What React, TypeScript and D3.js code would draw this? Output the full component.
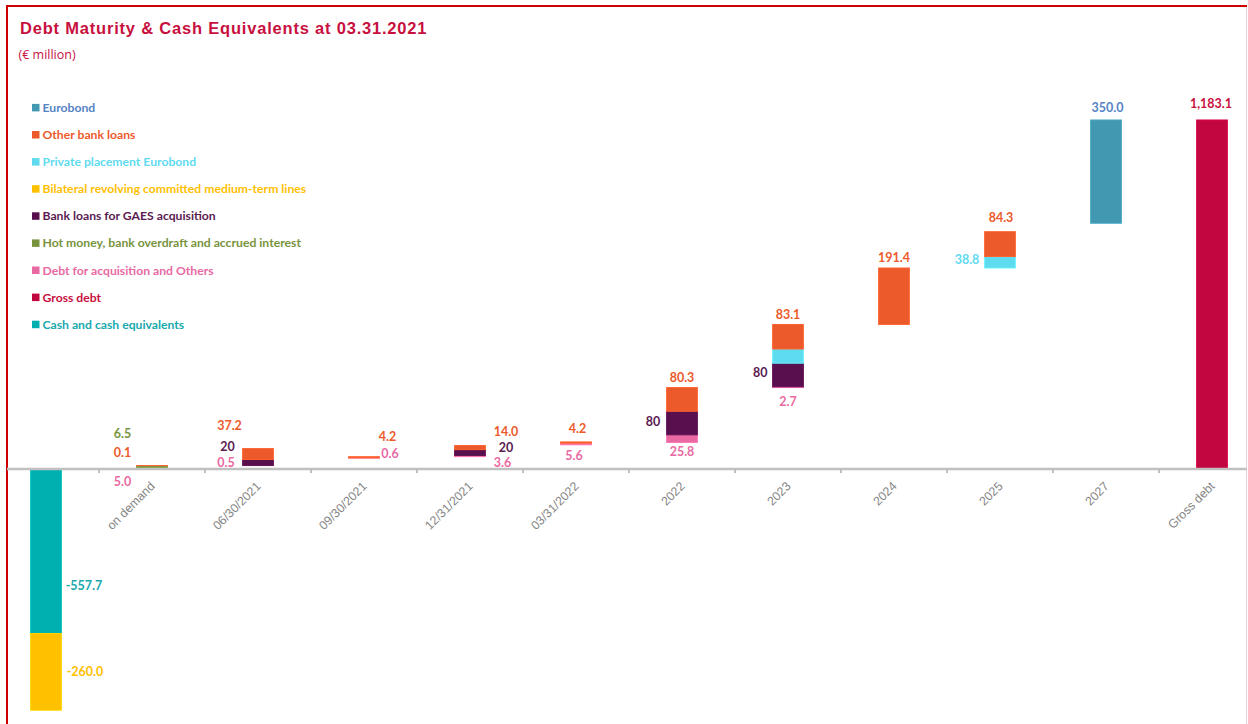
import React from "react";
import * as d3 from "d3";

const categories = [
  "Cash",
  "on demand",
  "06/30/2021",
  "09/30/2021",
  "12/31/2021",
  "03/31/2022",
  "2022",
  "2023",
  "2024",
  "2025",
  "2027",
  "Gross debt",
];
const tickLabels = [
  "",
  "on demand",
  "06/30/2021",
  "09/30/2021",
  "12/31/2021",
  "03/31/2022",
  "2022",
  "2023",
  "2024",
  "2025",
  "2027",
  "Gross debt",
];

// invisible offset series of the waterfall
const base = [0, 0, 11.6, 37, 42, 82, 90, 276, 490, 681.4, 833.1, 0];
const debtAcquisition = [0, 5.0, 0.5, 0.6, 3.6, 5.6, 25.8, 2.7, 0, 0, 0, 0];
const gaesLoans = [0, 0, 20, 0, 20, 0, 80, 80, 0, 0, 0, 0];
const privatePlacement = [0, 0, 0, 0, 0, 0, 0, 48, 0, 38.8, 0, 0];
const hotMoney = [0, 6.5, 0, 0, 0, 0, 0, 0, 0, 0, 0, 0];
const otherBankLoans = [0, 0.1, 37.2, 4.2, 14.0, 4.2, 80.3, 83.1, 191.4, 84.3, 0, 0];
const eurobond = [0, 0, 0, 0, 0, 0, 0, 0, 0, 0, 350.0, 0];
const grossDebt = [0, 0, 0, 0, 0, 0, 0, 0, 0, 0, 0, 1183.1];
const cashEquivalents = [-557.7, 0, 0, 0, 0, 0, 0, 0, 0, 0, 0, 0];
const bilateralLines = [-260.0, 0, 0, 0, 0, 0, 0, 0, 0, 0, 0, 0];

type Series = { key: string; name: string; color: string; label: string; values: number[] };

// stacking order (bottom to top)
const series: Series[] = [
  { key: "debtAcq", name: "Debt for acquisition and Others", color: "#e96aa3", label: "#e96aa3", values: debtAcquisition },
  { key: "gaes", name: "Bank loans for GAES acquisition", color: "#580f4d", label: "#5a1a52", values: gaesLoans },
  { key: "private", name: "Private placement Eurobond", color: "#5fdbef", label: "#5fdbef", values: privatePlacement },
  { key: "hot", name: "Hot money, bank overdraft and accrued interest", color: "#77933c", label: "#77933c", values: hotMoney },
  { key: "other", name: "Other bank loans", color: "#ec5a2c", label: "#ec5a2c", values: otherBankLoans },
  { key: "eurobond", name: "Eurobond", color: "#4198b0", label: "#5584c4", values: eurobond },
  { key: "gross", name: "Gross debt", color: "#c2063f", label: "#c8103f", values: grossDebt },
  { key: "cash", name: "Cash and cash equivalents", color: "#00b0b0", label: "#17a9ad", values: cashEquivalents },
  { key: "bilateral", name: "Bilateral revolving committed medium-term lines", color: "#ffc000", label: "#ffc000", values: bilateralLines },
];

const legendOrder = ["eurobond", "other", "private", "bilateral", "gaes", "hot", "debtAcq", "gross", "cash"];

// label placement: reference point of the segment and offset in px
const labelLayout: { cat: number; key: string; ref: "mid" | "top" | "bottom"; dx: number; dy: number }[] = [
  { cat: 0, key: "cash", ref: "mid", dx: 38, dy: 34.5 },
  { cat: 0, key: "bilateral", ref: "mid", dx: 39, dy: -0.5 },
  { cat: 1, key: "hot", ref: "mid", dx: -29.5, dy: -33 },
  { cat: 1, key: "other", ref: "mid", dx: -29.5, dy: -13 },
  { cat: 1, key: "debtAcq", ref: "mid", dx: -29.5, dy: 13 },
  { cat: 2, key: "other", ref: "mid", dx: -28.5, dy: -28.5 },
  { cat: 2, key: "gaes", ref: "mid", dx: -30.5, dy: -15.5 },
  { cat: 2, key: "debtAcq", ref: "mid", dx: -32, dy: -3.5 },
  { cat: 3, key: "other", ref: "mid", dx: 23.5, dy: -20.6 },
  { cat: 3, key: "debtAcq", ref: "mid", dx: 26, dy: -4 },
  { cat: 4, key: "other", ref: "mid", dx: 36, dy: -16 },
  { cat: 4, key: "gaes", ref: "mid", dx: 36, dy: -5.4 },
  { cat: 4, key: "debtAcq", ref: "mid", dx: 32.5, dy: 6.2 },
  { cat: 5, key: "other", ref: "mid", dx: 1.5, dy: -14.5 },
  { cat: 5, key: "debtAcq", ref: "mid", dx: -2, dy: 12 },
  { cat: 6, key: "other", ref: "top", dx: 0, dy: -10.3 },
  { cat: 6, key: "gaes", ref: "mid", dx: -29, dy: -1.7 },
  { cat: 6, key: "debtAcq", ref: "bottom", dx: 0, dy: 9 },
  { cat: 7, key: "other", ref: "top", dx: 0, dy: -10 },
  { cat: 7, key: "gaes", ref: "mid", dx: -27.7, dy: -2.5 },
  { cat: 7, key: "debtAcq", ref: "bottom", dx: 0, dy: 14.4 },
  { cat: 8, key: "other", ref: "top", dx: 0, dy: -10 },
  { cat: 9, key: "other", ref: "top", dx: 1, dy: -13.7 },
  { cat: 9, key: "private", ref: "mid", dx: -33, dy: -2.6 },
  { cat: 10, key: "eurobond", ref: "top", dx: 1.5, dy: -12 },
  { cat: 11, key: "gross", ref: "top", dx: -1, dy: -16 },
];

const W = 1248;
const H = 724;

const locale = d3.formatLocale({ decimal: ".", thousands: ",", grouping: [3], currency: ["€", ""], minus: "-" });

const App: React.FC = () => {
  const x = d3
    .scaleBand<string>()
    .domain(categories)
    .range([-7, 1265])
    .paddingInner(0.71)
    .paddingOuter(0.355);
  const y = d3.scaleLinear().domain([-800, 1200]).range([705, 115]);

  const rows = categories.map((c, i) => {
    const r: Record<string, number | string> = { cat: c, base: base[i] };
    series.forEach((s) => (r[s.key] = s.values[i]));
    return r;
  });
  const stacked = d3
    .stack<Record<string, number | string>>()
    .keys(["base", ...series.map((s) => s.key)])
    .value((d, k) => d[k] as number)
    .offset(d3.stackOffsetDiverging)(rows);

  const segOf = (key: string, cat: number) => stacked.find((l) => l.key === key)![cat];
  const cx = (i: number) => (x(categories[i]) ?? 0) + x.bandwidth() / 2;
  const step = x.step();
  const zeroY = y(0);

  const fmt = (key: string, v: number) =>
    key === "gaes" ? locale.format("d")(v) : locale.format(",.1f")(v);

  const labelFont = "Lato, 'Open Sans', sans-serif";

  return (
    <svg
      width={W}
      height={H}
      style={{ position: "absolute", left: 0, top: 0, display: "block", background: "#fff" }}
    >
      {/* frame */}
      <line x1={7} y1={6} x2={1247} y2={6} stroke="#cc0000" strokeWidth={2} />
      <line x1={7} y1={5} x2={7} y2={H} stroke="#cc0000" strokeWidth={2} />
      <line x1={1246.5} y1={7} x2={1246.5} y2={H} stroke="#f3cfd6" strokeWidth={1} />

      <text
        x={20}
        y={33.5}
        fontFamily="'Liberation Sans', Arial, sans-serif"
        fontWeight="bold"
        fontSize={16.5}
        letterSpacing={0.8}
        fill="#c8103f"
      >
        Debt Maturity &amp; Cash Equivalents at 03.31.2021
      </text>
      <text x={18.5} y={58.5} fontFamily="'Open Sans', sans-serif" fontSize={12.5} fill="#c8103f">
        (€ million)
      </text>

      {/* legend */}
      {legendOrder.map((k, i) => {
        const s = series.find((d) => d.key === k)!;
        const ly = 107.7 + i * 27.1;
        return (
          <g key={k}>
            <rect x={32} y={ly - 3.8} width={7.5} height={7.5} fill={s.color} />
            <text x={42.5} y={ly} dy="0.35em" fontFamily={labelFont} fontWeight="bold" fontSize={12.2} fill={s.label}>
              {s.name}
            </text>
          </g>
        );
      })}

      {/* bars */}
      {stacked
        .filter((l) => l.key !== "base")
        .map((layer) => {
          const s = series.find((d) => d.key === layer.key)!;
          return (
            <g key={layer.key}>
              {layer.map((seg, i) =>
                seg[1] - seg[0] === 0 ? null : (
                  <rect
                    key={i}
                    x={x(categories[i])}
                    width={x.bandwidth()}
                    y={y(Math.max(seg[0], seg[1]))}
                    height={Math.abs(y(seg[0]) - y(seg[1]))}
                    fill={s.color}
                    stroke={d3.color(s.color)!.brighter(0.3).formatHex()}
                    strokeWidth={1}
                  />
                )
              )}
            </g>
          );
        })}

      {/* category axis */}
      <line x1={7} x2={1247} y1={zeroY} y2={zeroY} stroke="#c0c0c0" strokeWidth={2.6} />
      {categories.slice(0, -1).map((c, i) => (
        <line key={c} x1={cx(i) + step / 2} x2={cx(i) + step / 2} y1={zeroY} y2={zeroY + 4} stroke="#c0c0c0" strokeWidth={2} />
      ))}
      {tickLabels.map((t, i) =>
        t ? (
          <text
            key={t}
            transform={`translate(${cx(i) + 3.5},${zeroY + 18}) rotate(-45)`}
            textAnchor="end"
            fontFamily="'Liberation Sans', Arial, sans-serif"
            fontSize={12.3}
            fill="#858585"
          >
            {t}
          </text>
        ) : null
      )}

      {/* data labels */}
      {labelLayout.map((l, j) => {
        const s = series.find((d) => d.key === l.key)!;
        const seg = segOf(l.key, l.cat);
        const lo = Math.min(seg[0], seg[1]);
        const hi = Math.max(seg[0], seg[1]);
        const ry = l.ref === "top" ? y(hi) : l.ref === "bottom" ? y(lo) : y((lo + hi) / 2);
        return (
          <text
            key={j}
            x={cx(l.cat) + l.dx}
            y={ry + l.dy}
            dy="0.36em"
            textAnchor="middle"
            fontFamily={labelFont}
            fontWeight="bold"
            fontSize={12.5}
            fill={s.label}
          >
            {fmt(l.key, s.values[l.cat])}
          </text>
        );
      })}
    </svg>
  );
};

export default App;
